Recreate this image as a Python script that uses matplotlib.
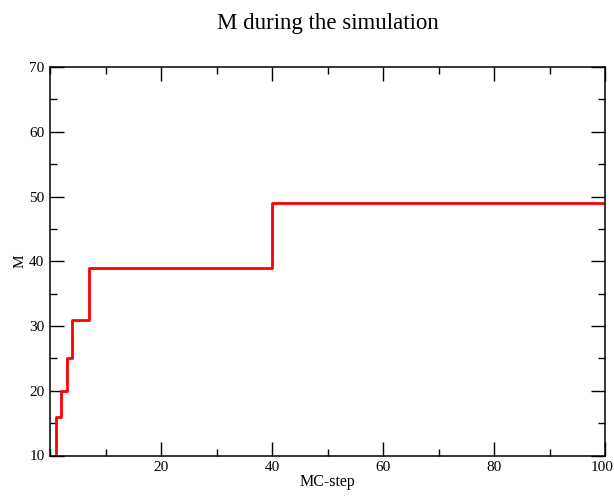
import matplotlib
matplotlib.use("Agg")
import matplotlib.pyplot as plt
import matplotlib.transforms as mtransforms
from matplotlib.ticker import MultipleLocator

# Werte
mc_step = [1, 2, 3, 4, 7, 40, 100]
m_values = [10, 16, 20, 25, 31, 39, 49]

plt.rcParams['font.family'] = ['Liberation Serif', 'DejaVu Serif']

fig = plt.figure(figsize=(6.14, 4.96), dpi=100)
ax = fig.add_axes([50 / 614, 1 - 455.5 / 496, 555 / 614, 388.5 / 496])

ax.plot(mc_step, m_values, drawstyle='steps-pre', color='#ff0000', linewidth=2.0)

ax.set_xlim(0, 100)
ax.set_ylim(10, 70)
ax.set_xticks([20, 40, 60, 80, 100])
ax.xaxis.set_minor_locator(MultipleLocator(10))
ax.yaxis.set_major_locator(MultipleLocator(10))
ax.yaxis.set_minor_locator(MultipleLocator(5))

ax.tick_params(which='both', direction='in', top=True, right=True, labelsize=11, width=1, colors='black')
ax.tick_params(which='major', length=10, pad=4)
ax.tick_params(which='minor', length=5)
for s in ax.spines.values():
    s.set_linewidth(1.1)

# letzte Beschriftung etwas nach links, damit sie nicht abgeschnitten wird
last = ax.get_xticklabels()[-1]
last.set_transform(last.get_transform() + mtransforms.ScaledTranslation(-3 / 100, 0, fig.dpi_scale_trans))

ax.set_xlabel('MC-step', fontsize=11.5, labelpad=0)
ax.set_ylabel('M', fontsize=11, labelpad=2)
fig.suptitle('M during the simulation', fontsize=16.5, x=327.5 / 614, y=1 - 29 / 496, va='baseline')

fig.savefig('out.png', dpi=100)
